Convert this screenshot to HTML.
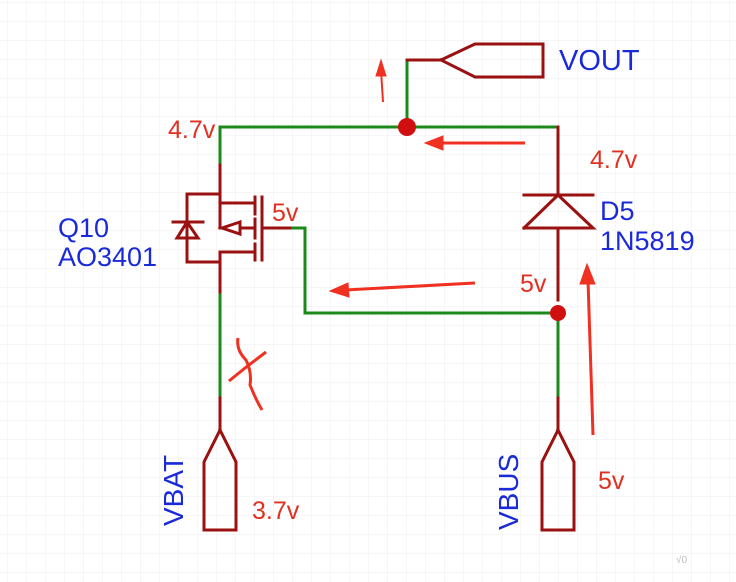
<!DOCTYPE html>
<html><head><meta charset="utf-8"><style>
html,body{margin:0;padding:0;background:#fff}
svg{display:block}
text{font-family:"Liberation Sans",sans-serif}
</style></head><body>
<svg width="736" height="582" viewBox="0 0 736 582" xmlns="http://www.w3.org/2000/svg">
<defs>
<pattern id="g" width="19" height="19" patternUnits="userSpaceOnUse" x="8" y="3">
<path d="M19 0V19M0 19H19" stroke="#ececec" stroke-width="1" fill="none"/>
</pattern>
</defs>
<rect width="736" height="582" fill="url(#g)"/>
<g fill="none" stroke-width="3" stroke-linecap="square">
<path d="M407 62V127M220 127H558M220 127V165M305 228V313H558M558 313V398M220 292V398M290 228H305" stroke="#1a8a1a"/>
<g stroke="#9b1010">
<path d="M407 60H441L475 44H543V77H475L441 60"/>
<path d="M558 127V195M524 195H593M524 228H593L558 195L524 228M558 228V300"/>
<path d="M558 398V430L542 462V530H574V462L558 430"/>
<path d="M220 398V430L204 462V530H236V462L220 430"/>
<path d="M220 165V228M220 203H255M255 197V214M255 219V238M255 244V260M262 197V260M262 228H290"/>
<path d="M240 228H255M220 252H255M220 252V292"/>
<path d="M187 194H220M187 194V238M173 222H203M177 238H198L187 222Z M187 238V262H220"/>
<path d="M240 222L222 228L240 234Z"/>
</g>
</g>
<circle cx="407" cy="127" r="9" fill="#d01010"/>
<circle cx="558" cy="313" r="8" fill="#d01010"/>
<g fill="#f03020" stroke="#f03020">
<path d="M383 102L381 70" stroke-width="2"/><path d="M381 60L376 76L386 76Z"/>
<path d="M525 143L440 143" stroke-width="3"/><path d="M425 143L443 136L443 150Z"/>
<path d="M475 283L345 290" stroke-width="3"/><path d="M330 291L348 283L349 297Z"/>
<path d="M593 435L588 280" stroke-width="3"/><path d="M587 264L580 284L595 284Z"/>
<path d="M238 338Q236 350 246 360Q252 372 250 385Q256 400 262 410" stroke-width="3" fill="none"/>
<path d="M229 381L245 368L266 352" stroke-width="3" fill="none"/>
</g>
<g font-size="25" fill="#e03020">
<text x="168" y="138">4.7v</text>
<text x="590" y="168">4.7v</text>
<text x="272" y="221">5v</text>
<text x="520" y="292">5v</text>
<text x="598" y="489">5v</text>
<text x="252" y="519">3.7v</text>
</g>
<g font-size="27" fill="#1a2ad8">
<text x="58" y="237">Q10</text>
<text x="58" y="266">AO3401</text>
<text x="600" y="220">D5</text>
<text x="600" y="250">1N5819</text>
<text x="559" y="70" font-size="29">VOUT</text>
<text transform="translate(183 526) rotate(-90)" font-size="28">VBAT</text>
<text transform="translate(518 530) rotate(-90)" font-size="28">VBUS</text>
</g>
<text x="676" y="563" font-size="10" fill="#bbb">√0</text>
</svg>
</body></html>
